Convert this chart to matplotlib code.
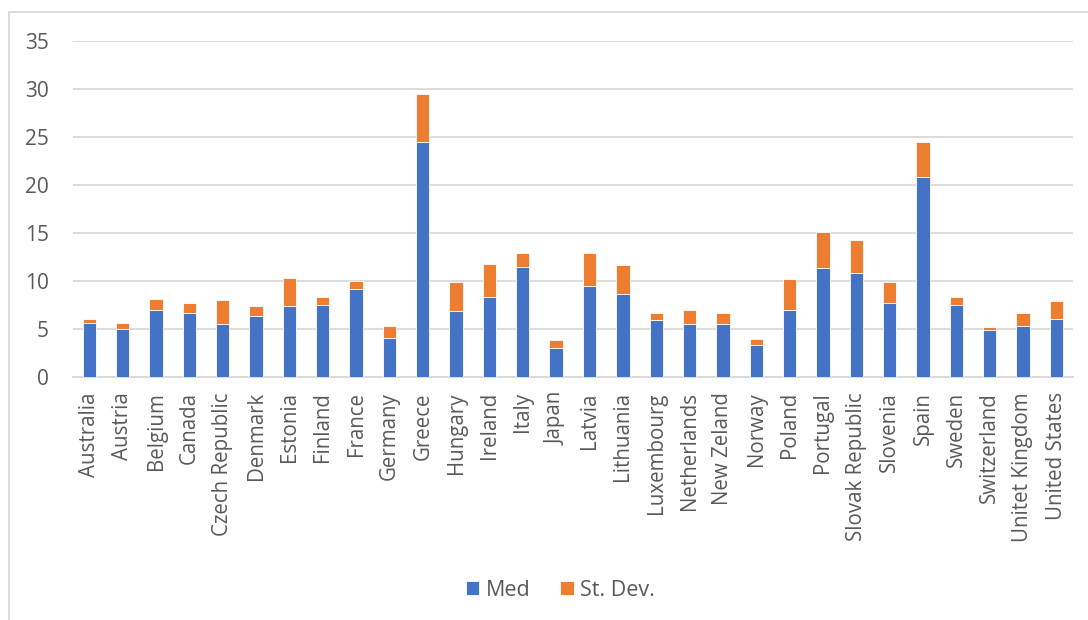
import numpy as np
import matplotlib
matplotlib.use("Agg")
import matplotlib.pyplot as plt
from matplotlib.patches import Rectangle

plt.rcParams['font.family'] = ['Open Sans', 'DejaVu Sans']

countries = ["Australia", "Austria", "Belgium", "Canada", "Czech Republic",
             "Denmark", "Estonia", "Finland", "France", "Germany", "Greece",
             "Hungary", "Ireland", "Italy", "Japan", "Latvia", "Lithuania",
             "Luxembourg", "Netherlands", "New Zeland", "Norway", "Poland",
             "Portugal", "Slovak Republic", "Slovenia", "Spain", "Sweden",
             "Switzerland", "Unitet Kingdom", "United States"]

med = [5.6, 5.0, 6.95, 6.7, 5.5, 6.4, 7.45, 7.55, 9.2, 4.1, 24.5,
       6.85, 8.35, 11.5, 3.0, 9.45, 8.6, 5.95, 5.5, 5.55, 3.35, 7.0,
       11.4, 10.8, 7.75, 20.85, 7.5, 4.9, 5.3, 6.05]

st_dev = [0.45, 0.6, 1.2, 1.0, 2.5, 0.95, 2.9, 0.75, 0.85, 1.25, 5.0,
          3.0, 3.45, 1.45, 0.85, 3.5, 3.1, 0.7, 1.45, 1.15, 0.58, 3.2,
          3.7, 3.5, 2.15, 3.65, 0.85, 0.3, 1.4, 1.9]

blue = "#4472C4"
orange = "#ED7D31"
grid = "#D9D9D9"
text_col = "#595959"

fig = plt.figure(figsize=(10.88, 6.2), dpi=100)
ax = fig.add_axes([0.0668, 0.392, 0.9194, 0.5414])

x = np.arange(len(countries))
ax.bar(x, med, width=0.4, color=blue, edgecolor="white", linewidth=0.6,
       label="Med", zorder=3)
ax.bar(x, st_dev, bottom=med, width=0.4, color=orange, edgecolor="white",
       linewidth=0.6, label="St. Dev.", zorder=3)

ax.set_xlim(-0.5, len(countries) - 0.5)
ax.set_ylim(0, 35)
ax.set_yticks(range(0, 36, 5))
ax.yaxis.grid(True, color=grid, linewidth=1.3, zorder=0)
ax.set_axisbelow(True)
for s in ["top", "right", "left"]:
    ax.spines[s].set_visible(False)
ax.spines["bottom"].set_color(grid)
ax.spines["bottom"].set_linewidth(1.3)

ax.set_xticks(x)
ax.set_xticklabels(countries, rotation=90, fontsize=14.8, color=text_col)
ax.tick_params(axis="x", length=0, pad=11)
ax.tick_params(axis="y", length=0, pad=17, labelsize=15, labelcolor=text_col)

fig.legend(loc="center", bbox_to_anchor=(0.515, 0.048), ncol=2, frameon=False,
           fontsize=15.5, labelcolor=text_col, handlelength=0.62,
           handleheight=0.62, handletextpad=0.3, columnspacing=1.4)

# light frame around the chart area
fig.patches.append(Rectangle((9 / 1088, -0.1), 1.2, 1 - 12 / 620 + 0.1,
                             transform=fig.transFigure, fill=False,
                             edgecolor="#D9D9D9", linewidth=1.3))

fig.savefig("out.png", dpi=100)
